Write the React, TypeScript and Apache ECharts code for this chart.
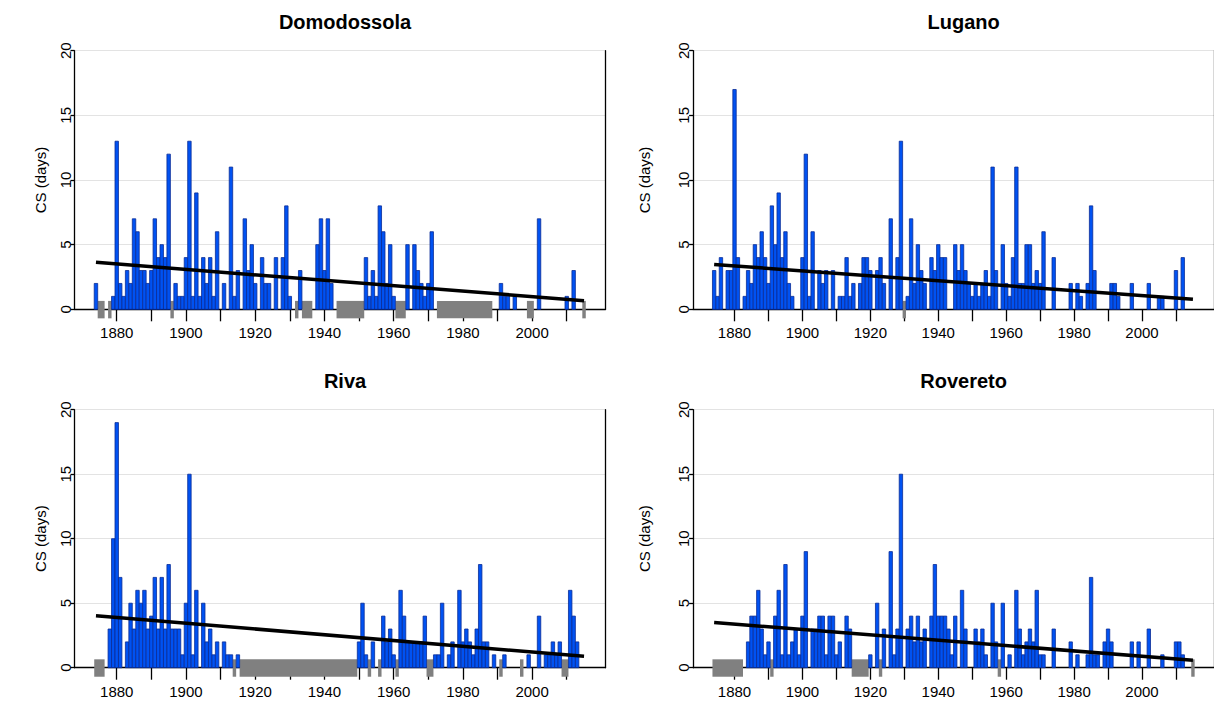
import React, { useEffect, useRef } from "react";
import * as echarts from "echarts";

const START_YEAR = 1874;
const stationNames = ["Domodossola", "Lugano", "Riva", "Rovereto"];

// CS days per year, 1874..2015 (null = missing year, drawn as grey mark)
const domodossola = [
  2, null, null, 0, null, 1, 13, 2, 1, 3,
  2, 7, 6, 3, 3, 2, 3, 7, 4, 5,
  4, 12, null, 2, 1, 1, 4, 13, 1, 9,
  1, 4, 2, 4, 1, 6, 0, 2, 0, 11,
  1, 3, 0, 7, 3, 5, 2, 0, 4, 2,
  2, 0, 4, 0, 4, 8, 1, 0, null, 3,
  null, null, null, 0, 5, 7, 3, 7, 2, 0,
  null, null, null, null, null, null, null, null, 4, 1,
  3, 1, 8, 6, 2, 5, 1, null, null, null,
  5, 0, 5, 3, 2, 1, 2, 6, 0, null,
  null, null, null, null, null, null, null, null, null, null,
  null, null, null, null, null, 0, 0, 2, 1, 1,
  0, 1, 0, 0, 0, null, null, 0, 7, 0,
  0, 0, 0, 0, 0, 0, 1, 0, 3, 0,
  0, null,
];

const lugano = [
  3, 1, 4, 0, 3, 3, 17, 4, 0, 1,
  3, 2, 5, 4, 6, 4, 2, 8, 5, 9,
  4, 6, 2, 1, 0, 0, 4, 12, 1, 6,
  0, 3, 2, 3, 0, 3, 0, 1, 1, 4,
  1, 2, 0, 2, 4, 4, 3, 0, 3, 4,
  2, 0, 7, 0, 4, 13, null, 1, 7, 2,
  5, 3, 2, 0, 4, 3, 5, 4, 4, 0,
  0, 5, 3, 5, 3, 2, 1, 2, 1, 2,
  3, 1, 11, 3, 0, 5, 2, 1, 4, 11,
  2, 2, 5, 5, 2, 3, 2, 6, 0, 0,
  4, 0, 0, 0, 0, 2, 0, 2, 1, 0,
  2, 8, 3, 0, 0, 0, 0, 2, 2, 1,
  0, 0, 0, 2, 0, 0, 0, 0, 2, 0,
  0, 1, 1, 0, 0, 0, 3, 0, 4, 0,
  0, 0,
];

const riva = [
  null, null, null, 0, 3, 10, 19, 7, 0, 2,
  5, 3, 6, 5, 6, 3, 4, 7, 3, 7,
  3, 8, 3, 3, 3, 1, 5, 15, 1, 6,
  0, 5, 2, 3, 1, 2, 0, 2, 1, 1,
  null, 1, null, null, null, null, null, null, null, null,
  null, null, null, null, null, null, null, null, null, null,
  null, null, null, null, null, null, null, null, null, null,
  null, null, null, null, null, null, 2, 5, 1, null,
  2, 0, null, 4, 2, 3, 1, null, 6, 4,
  2, 2, 2, 2, 2, 4, null, null, 1, 1,
  5, 0, 1, 2, 0, 6, 2, 3, 2, 1,
  3, 8, 2, 2, 0, 1, 0, null, 1, 0,
  0, 0, 0, null, 0, 1, 0, 0, 4, 0,
  1, 1, 2, 1, 2, null, null, 6, 4, 2,
  0, 0,
];

const rovereto = [
  null, null, null, null, null, null, null, null, null, 0,
  2, 4, 4, 6, 3, 1, 2, null, 4, 6,
  1, 8, 1, 2, 3, 1, 4, 9, 0, 3,
  3, 4, 4, 1, 4, 4, 1, 2, 0, 4,
  3, null, null, null, null, null, 1, 0, 5, null,
  3, 0, 9, 1, 3, 15, 0, 3, 4, 2,
  4, 2, 3, 0, 4, 8, 4, 4, 4, 3,
  1, 4, 0, 6, 3, 0, 0, 3, 2, 3,
  1, 0, 5, 2, null, 5, 0, 1, 0, 6,
  3, 1, 2, 3, 2, 6, 1, 1, 0, 0,
  3, 0, 0, 0, 0, 2, 0, 1, 0, 0,
  1, 7, 1, 1, 0, 2, 3, 2, 0, 0,
  0, 0, 0, 2, 0, 2, 0, 0, 3, 0,
  0, 0, 1, 0, 0, 0, 2, 2, 1, 0,
  0, null,
];

// linear trend: [value at first year, value at last year]
const trendYears = [1874, 2015];
const trendDomodossola = [3.63, 0.67];
const trendLugano = [3.47, 0.77];
const trendRiva = [4.03, 0.88];
const trendRovereto = [3.5, 0.57];

const xTickYears = [1880, 1890, 1900, 1910, 1920, 1930, 1940, 1950, 1960, 1970, 1980, 1990, 2000, 2010];
const xLabelYears = [1880, 1900, 1920, 1940, 1960, 1980, 2000];

const seriesValues = [domodossola, lugano, riva, rovereto];
const trends = [trendDomodossola, trendLugano, trendRiva, trendRovereto];

const FONT = "'Liberation Sans', Arial, Helvetica, sans-serif";
const BAR_FILL = "#0052f2";
const BAR_STROKE = "#0a2c95";
const MISSING_FILL = "#808080";

const gridBoxes = [
  { left: 74.5, top: 50.7, width: 531, height: 258.6 },
  { left: 693.1, top: 50.7, width: 531, height: 258.6 },
  { left: 74.5, top: 409.7, width: 531, height: 258 },
  { left: 693.1, top: 409.7, width: 531, height: 258 },
];
const nameGaps = [27, 41, 27, 41];

function buildOption() {
  const grid: any[] = [];
  const xAxis: any[] = [];
  const yAxis: any[] = [];
  const series: any[] = [];
  const title: any[] = [];

  stationNames.forEach((name, i) => {
    const g = gridBoxes[i];
    grid.push({ ...g, containLabel: false, show: false });
    title.push({
      text: name,
      left: g.left + g.width / 2,
      top: g.top - 44,
      textAlign: "center",
      textStyle: { fontFamily: FONT, fontSize: 20, fontWeight: "bold", color: "#000" },
    });
    xAxis.push({
      gridIndex: i,
      type: "value",
      min: 1867.8,
      max: 2021.2,
      axisLine: { show: true, onZero: true, lineStyle: { color: "#000", width: 1.3 } },
      axisTick: { show: true, customValues: xTickYears, length: 12, lineStyle: { color: "#000", width: 1.3 } },
      axisLabel: {
        show: true,
        customValues: xLabelYears,
        formatter: (v: number) => String(v),
        fontFamily: FONT,
        fontSize: 15,
        color: "#000",
        margin: 16,
      },
      splitLine: { show: false },
    });
    yAxis.push({
      gridIndex: i,
      type: "value",
      min: 0,
      max: 20,
      interval: 5,
      name: "CS (days)",
      nameLocation: "middle",
      nameRotate: 90,
      nameGap: nameGaps[i],
      nameTextStyle: { fontFamily: FONT, fontSize: 15, color: "#000" },
      axisLine: { show: true, lineStyle: { color: "#000", width: 1.3 } },
      axisTick: { show: true, length: 4, lineStyle: { color: "#000", width: 1.3 } },
      axisLabel: { show: true, rotate: 90, fontFamily: FONT, fontSize: 15, color: "#000", margin: 2 },
      splitLine: { show: true, lineStyle: { color: "#e3e3e3", width: 1 } },
    });
    // right frame line
    yAxis.push({
      gridIndex: i,
      type: "value",
      position: "right",
      min: 0,
      max: 20,
      interval: 5,
      axisLine: { show: true, lineStyle: { color: "#000", width: 1.3 } },
      axisTick: { show: false },
      axisLabel: { show: false },
      splitLine: { show: false },
    });

    const vals = seriesValues[i];
    const bars: number[][] = [];
    // runs of consecutive missing years: [firstYear, lastYear]
    const missingRuns: number[][] = [];
    vals.forEach((v, k) => {
      const yr = START_YEAR + k;
      if (v === null) {
        const last = missingRuns[missingRuns.length - 1];
        if (last && last[1] === yr - 1) last[1] = yr;
        else missingRuns.push([yr, yr]);
      } else if (v > 0) bars.push([yr, v]);
    });

    const yIdx = i * 2;
    series.push({
      type: "custom",
      xAxisIndex: i,
      yAxisIndex: yIdx,
      clip: false,
      data: missingRuns.map((r) => [r[0], 0, r[1]]),
      encode: { x: 0, y: 1 },
      renderItem: (_p: any, api: any) => {
        const x0 = api.value(0);
        const x1 = api.value(2);
        const a = api.coord([x0 - 0.5, 0.65]);
        const b = api.coord([x1 + 0.5, -0.7]);
        return {
          type: "rect",
          shape: { x: a[0], y: a[1], width: b[0] - a[0], height: b[1] - a[1] },
          style: { fill: MISSING_FILL },
        };
      },
      z: 1,
    });
    series.push({
      type: "custom",
      xAxisIndex: i,
      yAxisIndex: yIdx,
      data: bars,
      encode: { x: 0, y: 1 },
      renderItem: (_p: any, api: any) => {
        const x = api.value(0);
        const v = api.value(1);
        const a = api.coord([x - 0.5, v]);
        const b = api.coord([x + 0.5, 0]);
        return {
          type: "rect",
          shape: { x: a[0], y: a[1], width: b[0] - a[0], height: b[1] - a[1] },
          style: { fill: BAR_FILL, stroke: BAR_STROKE, lineWidth: 0.8 },
        };
      },
      z: 2,
    });
    series.push({
      type: "line",
      xAxisIndex: i,
      yAxisIndex: yIdx,
      data: [
        [trendYears[0], trends[i][0]],
        [trendYears[1], trends[i][1]],
      ],
      symbol: "none",
      lineStyle: { color: "#000", width: 3.5 },
      z: 3,
    });
  });

  return {
    animation: false,
    backgroundColor: "#fff",
    title,
    grid,
    xAxis,
    yAxis,
    series,
  };
}

export default function App() {
  const ref = useRef<HTMLDivElement>(null);
  useEffect(() => {
    if (!ref.current) return;
    const chart = echarts.init(ref.current, undefined, { renderer: "svg" });
    chart.setOption(buildOption() as any);
    return () => chart.dispose();
  }, []);
  return (
    <div
      ref={ref}
      style={{ position: "fixed", left: 0, top: 0, width: 1214, height: 706, background: "#fff" }}
    />
  );
}
